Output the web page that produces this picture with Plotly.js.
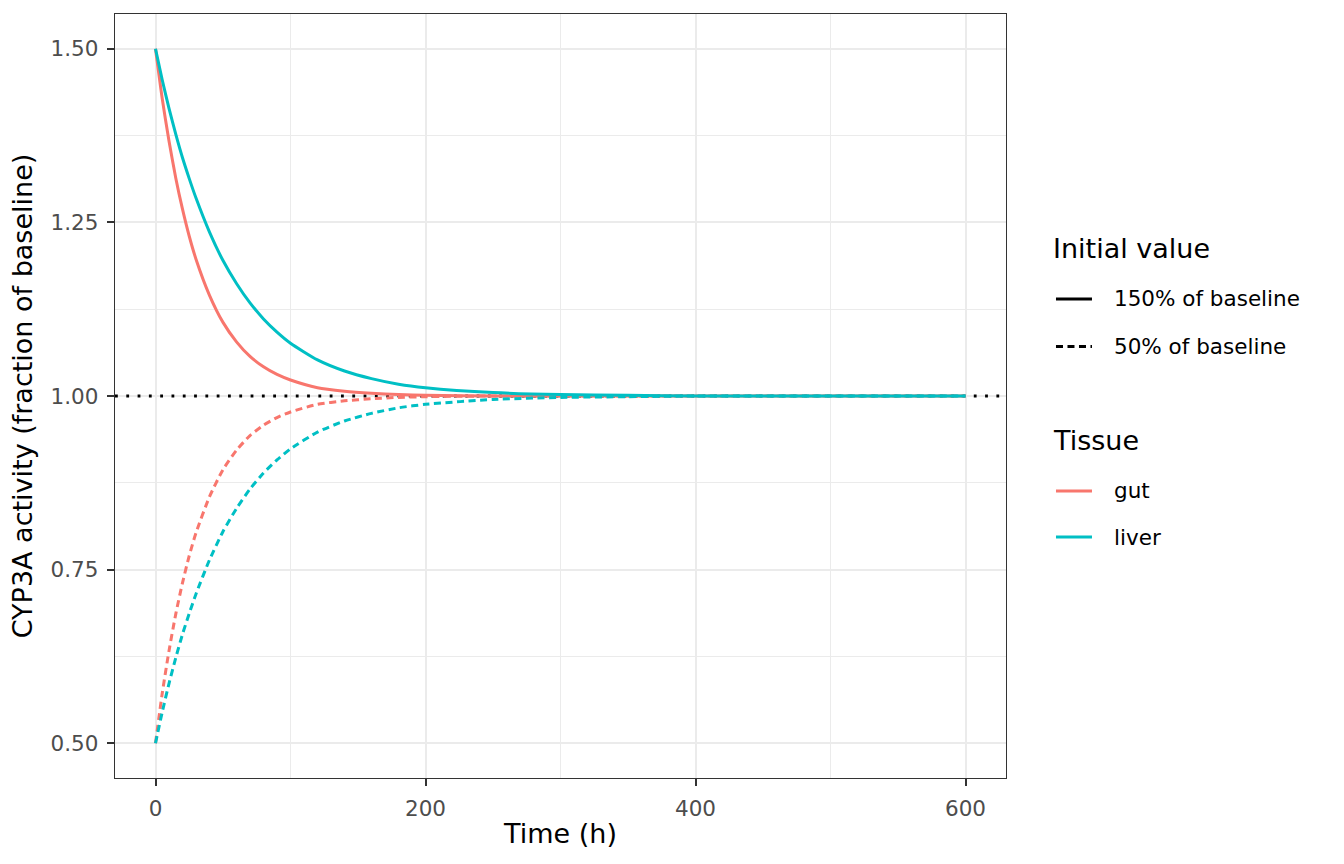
<!DOCTYPE html>
<html>
<head>
<meta charset="utf-8">
<script src="https://cdn.plot.ly/plotly-3.0.1.min.js"></script>
<style>
  html, body { margin: 0; padding: 0; background: #fff; }
  #chart { width: 1344px; height: 864px; }
</style>
</head>
<body>
<div id="chart"></div>
<script>
// time points (h)
var time = [0, 5, 10, 15, 20, 25, 30, 40, 50, 60, 70, 80, 90, 100, 120, 140, 160, 180, 200, 250, 300, 350, 400, 450, 500, 550, 600];

// initial value 150% of baseline
var gutHigh = [1.5, 1.428, 1.367, 1.314, 1.269, 1.230, 1.197, 1.145, 1.106, 1.078, 1.057, 1.042, 1.031, 1.023, 1.012, 1.007, 1.004, 1.002, 1.001, 1.000, 1, 1, 1, 1, 1, 1, 1];
var liverHigh = [1.5, 1.455, 1.414, 1.377, 1.343, 1.313, 1.285, 1.236, 1.195, 1.162, 1.134, 1.111, 1.092, 1.076, 1.052, 1.036, 1.025, 1.017, 1.012, 1.005, 1.002, 1.001, 1.000, 1, 1, 1, 1];

// initial value 50% of baseline
var gutLow = [0.5, 0.572, 0.633, 0.686, 0.731, 0.770, 0.803, 0.855, 0.894, 0.922, 0.943, 0.958, 0.969, 0.977, 0.988, 0.993, 0.996, 0.998, 0.999, 1.000, 1, 1, 1, 1, 1, 1, 1];
var liverLow = [0.5, 0.545, 0.586, 0.623, 0.657, 0.687, 0.715, 0.764, 0.805, 0.838, 0.866, 0.889, 0.908, 0.924, 0.948, 0.964, 0.975, 0.983, 0.988, 0.995, 0.998, 0.999, 1.000, 1, 1, 1, 1];

var baseline = 1;
var xRange = [-30, 630];
var yRange = [0.45, 1.55];
var xTicks = [0, 200, 400, 600];
var yTicks = [0.5, 0.75, 1.0, 1.25, 1.5];
var yTickText = ["0.50", "0.75", "1.00", "1.25", "1.50"];

var tissues = ["gut", "liver"];
var initLabels = ["150% of baseline", "50% of baseline"];

var gutCol = "#F8766D";
var liverCol = "#00BFC4";
var lw = 3;
var dashed = "7px,4.5px";
var font = "DejaVu Sans, Liberation Sans, sans-serif";

const line = (y, col, dash) => ({
    x: time,
    y: y,
    type: "scatter",
    mode: "lines",
    line: { color: col, width: lw, dash: dash, shape: "spline", smoothing: 0.6 },
    showlegend: false,
    hoverinfo: "x+y"
});

// dotted reference line at baseline, across the whole panel
var hline = {
    x: xRange,
    y: [baseline, baseline],
    type: "scatter",
    mode: "lines",
    line: { color: "#000000", width: 3, dash: "2.8px,8.5px" },
    showlegend: false,
    hoverinfo: "skip"
};

var data = [
    hline,
    line(gutHigh, gutCol, "solid"),
    line(gutLow, gutCol, dashed),
    line(liverHigh, liverCol, "solid"),
    line(liverLow, liverCol, dashed)
];

// legend drawn by hand so the spacing matches ggplot
var lx0 = 1.0561, lx1 = 1.0965, ltx = 1.119, ltitle = 1.0505;
var shapes = [
    { type: "line", xref: "paper", yref: "paper", x0: lx0, x1: lx1, y0: 0.627, y1: 0.627, line: { color: "#000", width: lw } },
    { type: "line", xref: "paper", yref: "paper", x0: lx0, x1: lx1, y0: 0.5648, y1: 0.5648, line: { color: "#000", width: lw, dash: dashed } },
    { type: "line", xref: "paper", yref: "paper", x0: lx0, x1: lx1, y0: 0.3757, y1: 0.3757, line: { color: gutCol, width: lw } },
    { type: "line", xref: "paper", yref: "paper", x0: lx0, x1: lx1, y0: 0.3154, y1: 0.3154, line: { color: liverCol, width: lw } }
];

const label = (txt, x, y, size) => ({
    text: txt, xref: "paper", yref: "paper", x: x, y: y,
    xanchor: "left", yanchor: "middle", showarrow: false,
    font: { family: font, size: size, color: "#000000" }
});

var annotations = [
    label("Initial value", ltitle, 0.6937, 27),
    label(initLabels[0], ltx, 0.627, 21.5),
    label(initLabels[1], ltx, 0.5648, 21.5),
    label("Tissue", ltitle, 0.4424, 27),
    label(tissues[0], ltx, 0.3757, 21.5),
    label(tissues[1], ltx, 0.3154, 21.5)
];

var axisCommon = {
    showline: true,
    mirror: true,
    linecolor: "#333333",
    linewidth: 1.3,
    ticks: "outside",
    ticklen: 7,
    tickwidth: 2,
    tickcolor: "#333333",
    ticklabelstandoff: 4,
    tickfont: { family: font, size: 21.5, color: "#4D4D4D" },
    showgrid: true,
    gridcolor: "#EBEBEB",
    gridwidth: 2,
    zeroline: false
};

var layout = {
    width: 1344,
    height: 864,
    paper_bgcolor: "#ffffff",
    plot_bgcolor: "#ffffff",
    margin: { l: 115, r: 338, t: 14, b: 86 },
    showlegend: false,
    font: { family: font },
    xaxis: Object.assign({}, axisCommon, {
        range: xRange,
        tickvals: xTicks,
        ticktext: xTicks.map(String),
        minor: { tickvals: [100, 300, 500], showgrid: true, gridcolor: "#EBEBEB", gridwidth: 1, ticks: "" },
        title: { text: "Time (h)", font: { family: font, size: 27, color: "#000000" }, standoff: 4 }
    }),
    yaxis: Object.assign({}, axisCommon, {
        range: yRange,
        tickvals: yTicks,
        ticktext: yTickText,
        minor: { tickvals: [0.625, 0.875, 1.125, 1.375], showgrid: true, gridcolor: "#EBEBEB", gridwidth: 1, ticks: "" },
        title: { text: "CYP3A activity (fraction of baseline)", font: { family: font, size: 27, color: "#000000" }, standoff: 10 }
    }),
    shapes: shapes,
    annotations: annotations
};

Plotly.newPlot("chart", data, layout, { displayModeBar: false, staticPlot: true });
</script>
</body>
</html>
